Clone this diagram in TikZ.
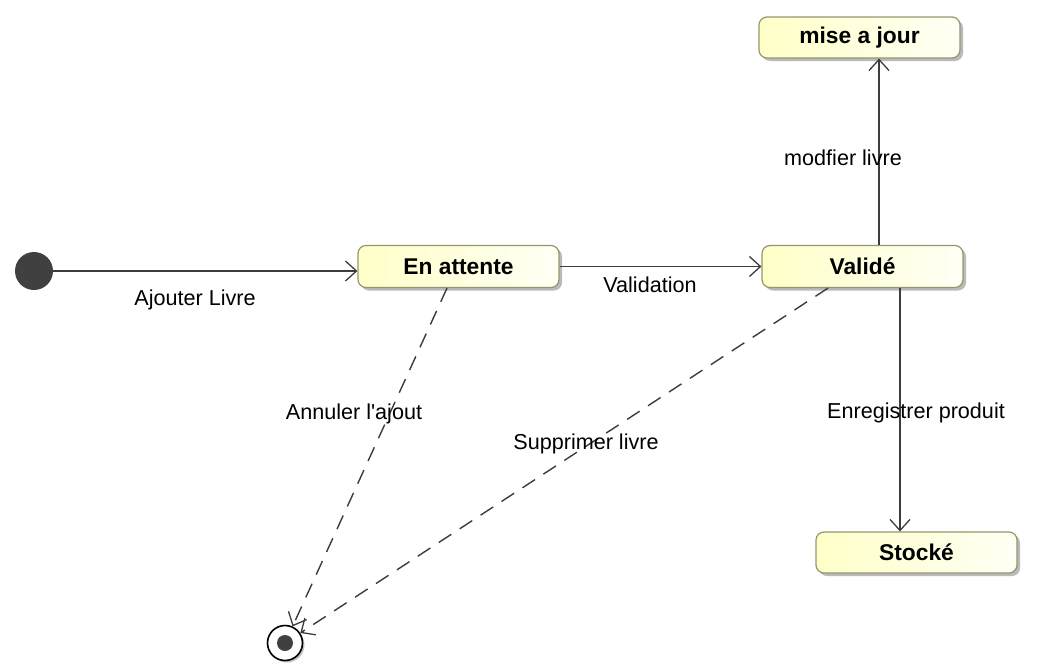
\documentclass[tikz,border=0pt]{standalone}
\usepackage{fontspec}
\setmainfont{Liberation Sans}
\usetikzlibrary{arrows.meta,shadows,calc}
\definecolor{stateborder}{RGB}{150,150,110}
\definecolor{stateleft}{RGB}{255,255,200}
\definecolor{stateright}{RGB}{255,255,245}
\definecolor{lineclr}{RGB}{60,60,60}
\definecolor{dotclr}{RGB}{64,64,64}
\tikzset{
  statebox/.style={draw=stateborder, line width=1.2pt, rounded corners=8pt,
    left color=stateleft, right color=stateright,
    minimum width=201pt, minimum height=42pt, inner sep=0pt,
    font=\fontsize{22.8}{27}\selectfont\bfseries,
    drop shadow={shadow xshift=3pt, shadow yshift=-3pt, fill=black!45, opacity=0.6}},
  lbl/.style={font=\fontsize{21.6}{25}\selectfont, text=black, inner sep=1pt},
  arr/.style={draw=lineclr, line width=1.4pt, -{Straight Barb[length=11pt,width=20pt,line width=1.3pt]}},
  dsh/.style={arr, dash pattern=on 15pt off 10pt},
}
\begin{document}
\begin{tikzpicture}[x=1pt,y=-1pt]
\useasboundingbox (0,0) rectangle (1042,672);
\node[circle, fill=dotclr, minimum size=38pt, inner sep=0pt] (init) at (34,271) {};
\node[statebox] (enatt) at (458.5,266.5) {En attente};
\node[statebox] (valide) at (862.5,266.5) {Validé};
\node[statebox, minimum height=41pt] (mise) at (859.5,37.5) {mise a jour};
\node[statebox, minimum height=41pt] (stocke) at (916.5,552.5) {Stocké};
\node[circle, draw=black, line width=1.6pt, fill=white, minimum size=35pt, inner sep=0pt,
  drop shadow={shadow xshift=2pt, shadow yshift=-2pt, fill=black!40, opacity=0.6}] (final) at (285,643) {};
\node[circle, fill=dotclr, minimum size=16pt, inner sep=0pt] (finaldot) at (final) {};

\draw[arr] (init) -- (init -| enatt.west);
\draw[arr] (enatt.east) -- (valide.west);
\draw[arr] ([xshift=16.5pt]valide.north) -- ([xshift=16.5pt]valide.north |- mise.south);
\draw[arr] ([xshift=37.5pt]valide.south) -- ([xshift=37.5pt]valide.south |- stocke.north);
\draw[dsh] ([xshift=-11.5pt]enatt.south) -- (final);
\draw[dsh] ([xshift=-34.5pt]valide.south) -- (final);

\node[lbl] (l1) at (195,300) {Ajouter Livre};
\node[lbl] (l2) at (650,285) {Validation};
\node[lbl] (l3) at (843,158) {modfier livre};
\node[lbl] (l4) at (916,413) {Enregistrer produit};
\node[lbl] (l5) at (354,414) {Annuler l\textquotesingle ajout};
\node[lbl] (l6) at (586,444) {Supprimer livre};
\end{tikzpicture}
\end{document}
